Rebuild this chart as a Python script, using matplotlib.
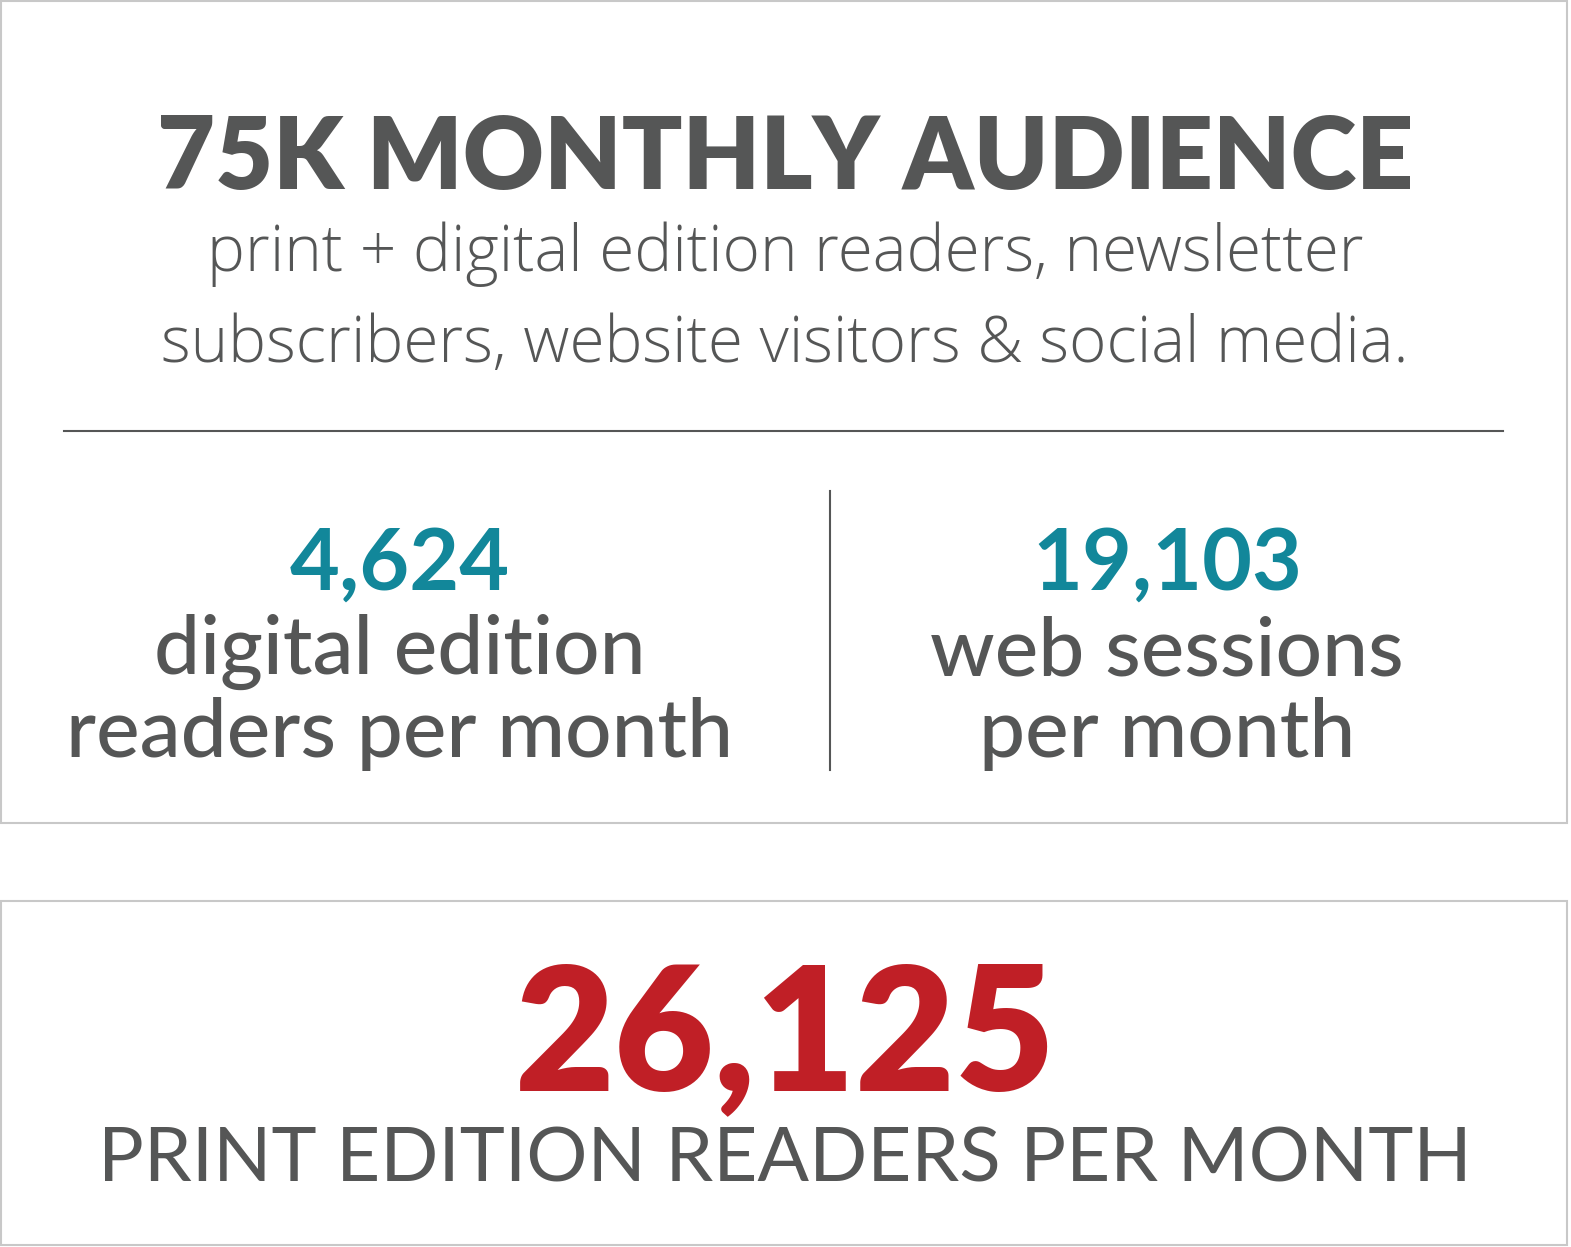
import matplotlib
matplotlib.use("Agg")
import matplotlib.pyplot as plt
from matplotlib.patches import Rectangle

headline = "75K MONTHLY AUDIENCE"
subtitle = ["print + digital edition readers, newsletter",
            "subscribers, website visitors & social media."]
stat_values = ["4,624", "19,103"]
stat_labels = [["digital edition", "readers per month"], ["web sessions", "per month"]]
print_value = "26,125"
print_label = "PRINT EDITION READERS PER MONTH"

GRAY = "#555656"
TEAL = "#12879a"
RED = "#c01f26"
FONT = ["Lato", "DejaVu Sans"]
LIGHT = ["Open Sans", "Lato", "DejaVu Sans"]

fig = plt.figure(figsize=(15.71, 12.47), dpi=100)
ax = fig.add_axes([0, 0, 1, 1])
ax.set_xlim(0, 1571)
ax.set_ylim(1247, 0)
ax.axis("off")

ax.add_patch(Rectangle((1, 1), 1566, 822, fill=False, ec="#c8c8c8", lw=1.5))
ax.add_patch(Rectangle((1, 901), 1566, 344, fill=False, ec="#c8c8c8", lw=1.5))

ax.text(785, 160, headline, ha="center", va="center", fontsize=72, fontweight="heavy",
        color=GRAY, family=FONT)
for i, s in enumerate(subtitle):
    ax.text(785, 254 + 92 * i, s, ha="center", va="center", fontsize=46, fontweight="light",
            color=GRAY, family=LIGHT)

ax.plot([64, 1503], [431, 431], color=GRAY, lw=1.5)
ax.plot([830, 830], [491, 770], color=GRAY, lw=1.5)

for cx, v, labels in zip([400, 1167], stat_values, stat_labels):
    ax.text(cx, 565, v, ha="center", va="center", fontsize=62, fontweight="bold",
            color=TEAL, family=FONT)
    for j, l in enumerate(labels):
        ax.text(cx, 652 + 82 * j, l, ha="center", va="center", fontsize=59,
                fontweight="medium", color=GRAY, family=FONT)

ax.text(785, 1040, print_value, ha="center", va="center", fontsize=124, fontweight="heavy",
        color=RED, family=FONT)
ax.text(785, 1160, print_label, ha="center", va="center", fontsize=55,
        color=GRAY, family=FONT)

fig.savefig("out.png", dpi=100)
